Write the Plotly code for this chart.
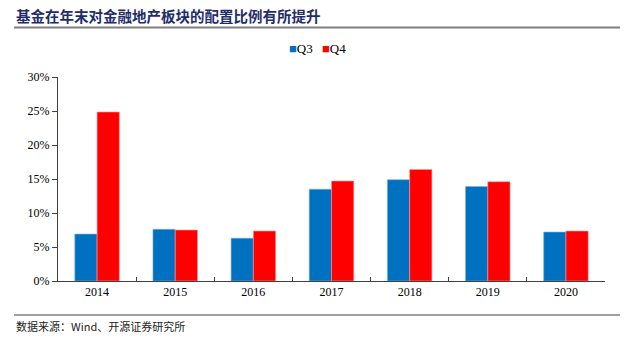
import plotly.graph_objects as go

years = ["2014", "2015", "2016", "2017", "2018", "2019", "2020"]
q3 = [6.9, 7.6, 6.3, 13.5, 14.9, 13.9, 7.2]
q4 = [24.85, 7.5, 7.35, 14.7, 16.4, 14.6, 7.35]
yticks = [0, 5, 10, 15, 20, 25, 30]
ytick_text = ["0%", "5%", "10%", "15%", "20%", "25%", "30%"]
series_names = ["Q3", "Q4"]
series_colors = ["#0070C0", "#FF0000"]

L, R, T, B = 58, 19, 77, 60
W, H = 624, 341
pw, ph = W - L - R, H - T - B

def px(x):
    return (x - L) / pw

def py(y):
    return (H - B - y) / ph

serif = "Liberation Serif, Times New Roman, serif"

fig = go.Figure()
fig.add_trace(go.Bar(x=years, y=q3, name=series_names[0],
                     marker=dict(color=series_colors[0], line=dict(color="#7FB4E0", width=0.6))))
fig.add_trace(go.Bar(x=years, y=q4, name=series_names[1],
                     marker=dict(color=series_colors[1], line=dict(color="#FF9A9A", width=0.6))))

fig.update_layout(
    width=W, height=H,
    margin=dict(l=L, r=R, t=T, b=B),
    paper_bgcolor="white", plot_bgcolor="white",
    barmode="group", bargap=0.43, bargroupgap=0,
    showlegend=False,
    font=dict(family=serif, size=12, color="black"),
)
fig.update_xaxes(type="category", showline=True, linecolor="#404040", linewidth=1,
                 ticks="inside", tickson="boundaries", ticklen=4, tickcolor="#404040",
                 showgrid=False, tickfont=dict(family=serif, size=12, color="black"))
fig.update_yaxes(range=[0, 30], tickvals=yticks, ticktext=ytick_text, showline=True,
                 linecolor="#404040", linewidth=1, ticks="outside", ticklen=5, tickcolor="#404040",
                 showgrid=False, zeroline=False, tickfont=dict(family=serif, size=12, color="black"))

# legend (marker + label)
for name, color, xpos in zip(series_names, series_colors, [287, 320]):
    fig.add_annotation(text=f"<span style='color:{color}'>■</span>{name}", xref="paper", yref="paper",
                       x=px(xpos), y=py(48), xanchor="left", yanchor="middle", showarrow=False,
                       font=dict(family=serif, size=13, color="black"))

fig.add_annotation(text="<b>基金在年末对金融地产板块的配置比例有所提升</b>", xref="paper", yref="paper",
                   x=px(14), y=py(16), xanchor="left", yanchor="middle", showarrow=False,
                   font=dict(family="Noto Sans CJK SC", size=14.5, color="#1F2D6B"))
fig.add_annotation(text="数据来源：Wind、开源证券研究所", xref="paper", yref="paper",
                   x=px(14), y=py(326), xanchor="left", yanchor="middle", showarrow=False,
                   font=dict(family="Noto Sans CJK SC, " + serif, size=11, color="#222222"))
fig.add_shape(type="line", xref="paper", yref="paper", x0=px(14), x1=px(620), y0=py(27.5), y1=py(27.5),
              line=dict(color="#7F7F7F", width=2))
fig.add_shape(type="line", xref="paper", yref="paper", x0=px(14), x1=px(620), y0=py(315), y1=py(315),
              line=dict(color="#7F7F7F", width=1.5))

fig.write_html("out.html")
